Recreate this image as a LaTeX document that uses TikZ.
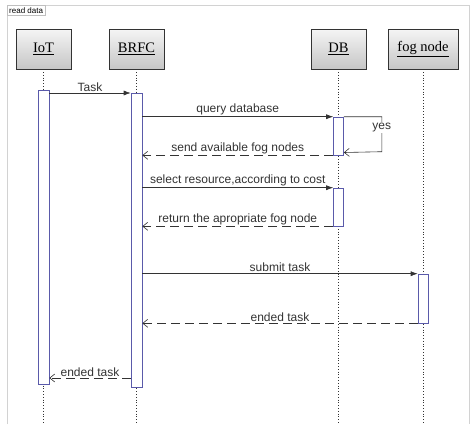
\documentclass[tikz,border=0pt]{standalone}
\usepackage{fontspec}
\setmainfont{Liberation Sans}
\newfontfamily\headfont{Liberation Serif}
\usetikzlibrary{arrows.meta}
\definecolor{actblue}{HTML}{5A5AAA}
\definecolor{linegray}{HTML}{333333}
\tikzset{
  head/.style={draw=linegray, top color=gray!8, bottom color=gray!45, minimum width=55pt,
    minimum height=40pt, inner sep=0pt, font=\headfont\fontsize{14.5}{16}\selectfont},
  act/.style={draw=actblue, semithick, fill=white, minimum width=11pt, inner sep=0pt},
  lifeline/.style={linegray, dotted, thick},
  msg/.style={linegray, semithick, -{Latex[length=7pt,width=5pt]}},
  reply/.style={linegray, semithick, dash pattern=on 9pt off 5pt, -{Straight Barb[length=5pt,width=8pt]}},
  lbl/.style={above, inner sep=1.5pt, text=linegray, font=\fontsize{12}{14}\selectfont}
}
\begin{document}
\begin{tikzpicture}[x=1pt,y=-1pt]
    \useasboundingbox (0,0) rectangle (474,424);
    % 外框
    \draw[gray!35] (7,424) -- (7,5) -- (469,5) -- (469,424);
    \node[draw=gray!50, fill=white, anchor=north west, inner sep=2pt,
      font=\fontsize{8}{9}\selectfont] (frame) at (7,5) {read data};
    % 对象
    \node[head] (iot) at (43.5,49) {\underline{IoT}};
    \node[head] (brfc) at (136.5,49) {\underline{BRFC}};
    \node[head] (db) at (338.5,49) {\underline{DB}};
    \node[head, minimum width=70pt] (fog) at (423,49) {\underline{fog node}};
    % 生命线
    \draw[lifeline] (iot.south) -- (iot.south |- 0,424);
    \draw[lifeline] (brfc.south) -- (brfc.south |- 0,424);
    \draw[lifeline] (db.south) -- (db.south |- 0,424);
    \draw[lifeline] (fog.south) -- (fog.south |- 0,424);
    % 激活框
    \node[act, minimum height=294pt] (iotact) at (43.5,237) {};
    \node[act, minimum height=294pt] (brfcact) at (136.5,240) {};
    \node[act, minimum width=10pt, minimum height=38pt] (dbact1) at (338.5,136) {};
    \node[act, minimum width=10pt, minimum height=38pt] (dbact2) at (338.5,207) {};
    \node[act, minimum width=10pt, minimum height=49pt] (fogact) at (423,298.5) {};
    % 消息
    \draw[msg] (iotact.east |- 0,93) -- node[lbl] {Task} (brfcact.west |- 0,93);
    \draw[msg] (brfcact.east |- dbact1.north) -- node[lbl] {query database} (dbact1.north west);
    \draw[linegray, semithick, -{Straight Barb[length=5pt,width=8pt]}] (dbact1.north east) -- ++(38,0)
      -- node[fill=white, inner sep=1pt, text=linegray, font=\fontsize{12}{14}\selectfont,
      pos=0.3] {yes} ++(0,35) -- (dbact1.east |- 0,152.5);
    \draw[reply] (dbact1.south west) -- node[lbl] {send available fog nodes} (brfcact.east |- dbact1.south);
    \draw[msg] (brfcact.east |- dbact2.north) -- node[lbl] {select resource,according to cost} (dbact2.north west);
    \draw[reply] (dbact2.south west) -- node[lbl] {return the apropriate fog node} (brfcact.east |- dbact2.south);
    \draw[msg] (brfcact.east |- fogact.north) -- node[lbl] {submit task} (fogact.north west);
    \draw[reply] (fogact.south west) -- node[lbl] {ended task} (brfcact.east |- fogact.south);
    \draw[reply] (brfcact.west |- 0,378) -- node[lbl] {ended task} (iotact.east |- 0,378);
\end{tikzpicture}
\end{document}
